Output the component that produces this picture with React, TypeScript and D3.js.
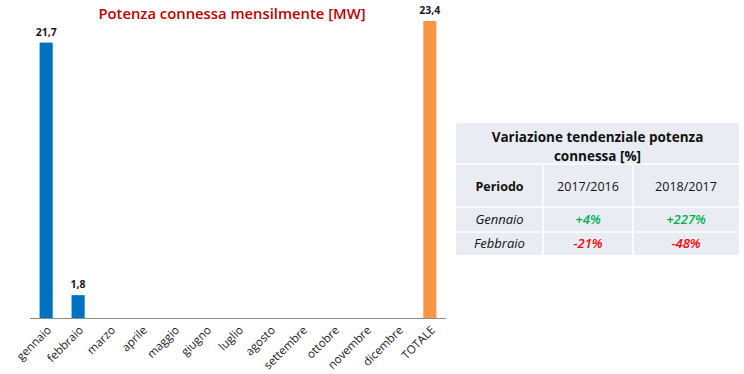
import React, { useEffect, useRef } from 'react';
import * as d3 from 'd3';

const months = ['gennaio', 'febbraio', 'marzo', 'aprile', 'maggio', 'giugno', 'luglio', 'agosto', 'settembre', 'ottobre', 'novembre', 'dicembre', 'TOTALE'];
const power = [21.7, 1.8, null, null, null, null, null, null, null, null, null, null, 23.4];

const tableTitle = ['Variazione tendenziale potenza', 'connessa [%]'];
const tableCols = ['Periodo', '2017/2016', '2018/2017'];
const tableRows = ['Gennaio', 'Febbraio'];
const var1716 = [4, -21];
const var1817 = [227, -48];

const fmt = (v: number) => v.toFixed(1).replace('.', ',');
const fmtPct = (v: number) => (v > 0 ? '+' : '') + v + '%';

function App() {
  const ref = useRef<SVGSVGElement>(null);

  useEffect(() => {
    const svg = d3.select(ref.current);
    svg.selectAll('*').remove();
    const font = 'Open Sans, Liberation Sans, sans-serif';

    const x = d3.scaleBand().domain(months).range([30, 446]).paddingInner(0.59).paddingOuter(0.3);
    const y = d3.scaleLinear().domain([0, 23.4]).range([318, 21]);

    svg.append('text')
      .attr('x', 232).attr('y', 19)
      .attr('text-anchor', 'middle')
      .style('font-family', font).style('font-size', '14.8px').style('font-weight', 600)
      .attr('fill', '#c00000')
      .text('Potenza connessa mensilmente [MW]');

    const data = months.map((m, i) => ({ m, v: power[i] })).filter(d => d.v != null) as { m: string; v: number }[];

    svg.selectAll('.bar').data(data).join('rect')
      .attr('x', d => x(d.m)!)
      .attr('y', d => y(d.v))
      .attr('width', x.bandwidth())
      .attr('height', d => y(0) - y(d.v))
      .attr('fill', d => d.m === 'TOTALE' ? '#f79646' : '#0070c0');

    svg.selectAll('.lbl').data(data).join('text')
      .attr('x', d => x(d.m)! + x.bandwidth() / 2)
      .attr('y', d => y(d.v) - 7)
      .attr('text-anchor', 'middle')
      .style('font-family', font).style('font-size', '10.5px').style('font-weight', 700)
      .attr('fill', '#1a1a1a')
      .text(d => fmt(d.v));

    const axis = svg.append('g').attr('transform', 'translate(0,318)')
      .call(d3.axisBottom(x).tickSize(0).tickPadding(0));
    axis.select('.domain').attr('stroke', '#8c8c8c').attr('d', 'M30,0.5H446');
    axis.selectAll('text')
      .style('font-family', font).style('font-size', '11.5px')
      .attr('fill', '#1a1a1a')
      .attr('text-anchor', 'end')
      .attr('dy', '0.35em')
      .attr('transform', 'translate(3,10) rotate(-45)');

    // table
    const tx = [456, 543, 633, 739];
    const ty = [123, 164, 207, 232, 255];
    const t = svg.append('g');
    t.append('rect').attr('x', tx[0]).attr('y', ty[0]).attr('width', tx[3] - tx[0]).attr('height', ty[4] - ty[0]).attr('fill', '#e9ecf3');
    [1, 2, 3].forEach(i => {
      t.append('line').attr('x1', tx[0]).attr('x2', tx[3]).attr('y1', ty[i]).attr('y2', ty[i]).attr('stroke', '#fff').attr('stroke-width', 1.5);
    });
    [1, 2].forEach(i => {
      t.append('line').attr('x1', tx[i]).attr('x2', tx[i]).attr('y1', ty[1]).attr('y2', ty[4]).attr('stroke', '#fff').attr('stroke-width', 1.5);
    });
    const cx = (i: number) => (tx[i] + tx[i + 1]) / 2;
    tableTitle.forEach((s, i) => {
      t.append('text').attr('x', (tx[0] + tx[3]) / 2).attr('y', 142 + i * 19)
        .attr('text-anchor', 'middle')
        .style('font-family', font).style('font-size', '13.5px').style('font-weight', 700)
        .attr('fill', '#111').text(s);
    });
    tableCols.forEach((s, i) => {
      t.append('text').attr('x', cx(i)).attr('y', 191)
        .attr('text-anchor', 'middle')
        .style('font-family', font).style('font-size', '12.5px').style('font-weight', i === 0 ? 700 : 400)
        .attr('fill', '#111').text(s);
    });
    tableRows.forEach((s, r) => {
      const yy = (ty[r + 2] + ty[r + 3]) / 2 + 4.5;
      t.append('text').attr('x', cx(0)).attr('y', yy).attr('text-anchor', 'middle')
        .style('font-family', font).style('font-size', '13px').style('font-style', 'italic')
        .attr('fill', '#111').text(s);
      [var1716[r], var1817[r]].forEach((v, c) => {
        t.append('text').attr('x', cx(c + 1)).attr('y', yy).attr('text-anchor', 'middle')
          .style('font-family', font).style('font-size', '13px').style('font-style', 'italic').style('font-weight', 600)
          .attr('fill', v > 0 ? '#00b050' : '#ff0000').text(fmtPct(v));
      });
    });
  }, []);

  return (
    <div style={{ position: 'absolute', left: 0, top: 0, width: 744, height: 374, background: '#fff' }}>
      <svg ref={ref} width={744} height={374} style={{ display: 'block' }}></svg>
    </div>
  );
}

export default App;
